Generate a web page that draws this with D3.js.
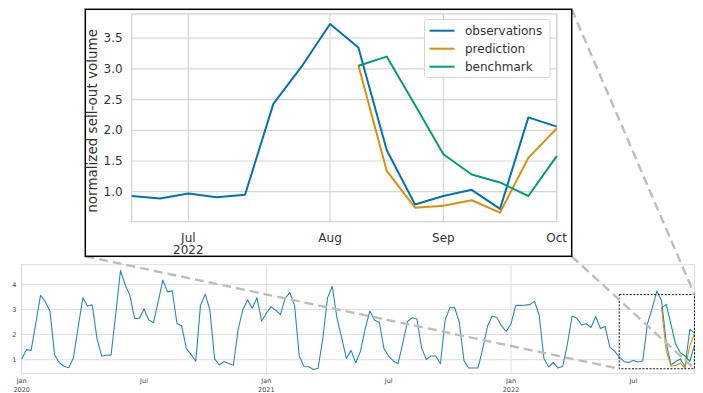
<!DOCTYPE html>
<html>
<head>
<meta charset="utf-8">
<script src="https://cdn.jsdelivr.net/npm/d3@7"></script>
<style>
  html, body { margin: 0; padding: 0; background: #fff; }
  svg { display: block; font-family: "DejaVu Sans", sans-serif; }
</style>
</head>
<body>
<svg id="chart" width="703" height="393"></svg>
<script>
// ---------------- DATA ----------------
const firstWeek = "2019-12-30";   // weekly periods (Monday starts)
const observations = [
  1.03, 1.40, 1.37, 2.45, 3.56, 3.32, 2.94, 1.19, 0.88, 0.74, 0.68, 1.08, 2.30, 3.46, 3.14, 3.18,
  1.84, 1.14, 1.19, 1.18, 2.85, 4.55, 3.98, 3.55, 2.64, 2.64, 3.02, 2.58, 2.47, 3.30, 4.17, 3.70,
  3.74, 2.44, 2.35, 1.45, 1.20, 0.94, 3.16, 3.61, 2.98, 1.03, 0.79, 0.93, 0.85, 0.78, 2.20, 2.98,
  3.38, 3.05, 3.47, 2.53, 2.85, 3.10, 2.97, 2.79, 3.45, 3.67, 3.15, 1.14, 0.73, 0.72, 0.61, 0.66,
  1.85, 3.46, 3.92, 2.67, 1.88, 1.05, 1.37, 0.88, 1.33, 2.23, 2.94, 2.57, 2.49, 1.44, 1.14, 0.95,
  0.84, 1.67, 2.52, 2.67, 2.62, 1.46, 1.01, 1.15, 1.15, 0.84, 2.58, 3.07, 3.08, 2.50, 0.97, 0.67,
  0.67, 0.67, 1.45, 2.33, 2.74, 2.68, 2.34, 2.13, 2.43, 3.16, 3.16, 3.17, 3.19, 3.33, 2.76, 1.05,
  0.71, 0.89, 0.67, 0.74, 1.64, 2.74, 2.65, 2.38, 2.43, 2.28, 2.72, 2.24, 2.32, 1.50, 1.34, 1.11,
  0.93, 0.89, 0.97, 0.91, 0.95, 2.43, 3.04, 3.73, 3.35, 1.68, 0.79, 0.93, 1.03, 0.72, 2.21, 2.06
];
const forecastStart = "2022-08-08";
const prediction = [3.06, 1.34, 0.74, 0.77, 0.86, 0.66, 1.55, 2.03];
const benchmark  = [3.05, 3.20, 2.41, 1.61, 1.28, 1.15, 0.93, 1.58];

const insetStart = "2022-06-13";
const zoomBoxStart = "2022-06-06";
const zoomBoxLow = 0.64, zoomBoxHigh = 3.59;

const seriesNames = ["observations", "prediction", "benchmark"];
const seriesColors = ["#0173b2", "#de8f05", "#029e73"];

const mainTickMonths = ["2020-01-01", "2020-07-01", "2021-01-01", "2021-07-01", "2022-01-01", "2022-07-01"];
const mainTickLabels = [["Jan", "2020"], ["Jul"], ["Jan", "2021"], ["Jul"], ["Jan", "2022"], ["Jul"]];
const mainYTicks = [1, 2, 3, 4];

const insetTickMonths = ["2022-07-01", "2022-08-01", "2022-09-01", "2022-10-01"];
const insetTickLabels = [["Jul", "2022"], ["Aug"], ["Sep"], ["Oct"]];
const insetYTicks = [1.0, 1.5, 2.0, 2.5, 3.0, 3.5];
const yLabel = "normalized sell-out volume";

// ---------------- HELPERS ----------------
const parse = d3.utcParse("%Y-%m-%d");
const week0 = parse(firstWeek);
const obsData = observations.map((v, i) => ({ date: d3.utcWeek.offset(week0, i), v }));
const fc0 = parse(forecastStart);
const predData = prediction.map((v, i) => ({ date: d3.utcWeek.offset(fc0, i), v }));
const benchData = benchmark.map((v, i) => ({ date: d3.utcWeek.offset(fc0, i), v }));
const weekOf = s => d3.utcMonday.floor(parse(s));   // period containing the month start
const lastWeek = obsData[obsData.length - 1].date;

const svg = d3.select("#chart");

// ---------------- MAIN (bottom) CHART ----------------
const M = { left: 21.7, right: 694.5, top: 264.7, bottom: 373.7 };
const x = d3.scaleUtc().domain([week0, lastWeek]).range([M.left, M.right]);
const y = d3.scaleLinear().domain([0.443, 4.78]).range([M.bottom, M.top]);

const gMain = svg.append("g");
gMain.append("rect").attr("x", M.left).attr("y", M.top)
  .attr("width", M.right - M.left).attr("height", M.bottom - M.top).attr("fill", "#fff");

// horizontal grid
gMain.append("g").selectAll("line").data(mainYTicks).join("line")
  .attr("x1", M.left).attr("x2", M.right)
  .attr("y1", d => y(d)).attr("y2", d => y(d))
  .attr("stroke", "#dedede").attr("stroke-width", 1);
// vertical grid at major (year) ticks
const mainTicks = mainTickMonths.map((m, i) => ({ date: weekOf(m), label: mainTickLabels[i] }));
gMain.append("g").selectAll("line").data(mainTicks.filter(t => t.label.length > 1)).join("line")
  .attr("x1", d => x(d.date)).attr("x2", d => x(d.date))
  .attr("y1", M.top).attr("y2", M.bottom)
  .attr("stroke", "#dedede").attr("stroke-width", 1);
// frame
gMain.append("rect").attr("x", M.left).attr("y", M.top)
  .attr("width", M.right - M.left).attr("height", M.bottom - M.top)
  .attr("fill", "none").attr("stroke", "#dcdcdc").attr("stroke-width", 1);

// y tick labels
gMain.append("g").selectAll("text").data(mainYTicks).join("text")
  .attr("x", 16.5).attr("y", d => y(d)).attr("dy", "0.35em")
  .attr("text-anchor", "end").attr("font-size", 6.5).attr("fill", "#444")
  .text(d => d3.format("d")(d));
// x tick labels
const xt = gMain.append("g").selectAll("text").data(mainTicks).join("text")
  .attr("x", d => x(d.date)).attr("y", 383)
  .attr("text-anchor", "middle").attr("font-size", 6.5).attr("fill", "#444");
xt.selectAll("tspan").data(d => d.label.map(l => ({ l, x: x(d.date) }))).join("tspan")
  .attr("x", d => d.x).attr("dy", (d, i) => i === 0 ? 0 : 8.5).text(d => d.l);

const lineMain = d3.line().x(d => x(d.date)).y(d => y(d.v));
gMain.append("path").datum(obsData).attr("d", lineMain)
  .attr("fill", "none").attr("stroke", seriesColors[0]).attr("stroke-width", 1.1)
  .attr("stroke-opacity", 0.85).attr("stroke-linejoin", "round");
gMain.append("path").datum(predData).attr("d", lineMain)
  .attr("fill", "none").attr("stroke", seriesColors[1]).attr("stroke-width", 1.1);
gMain.append("path").datum(benchData).attr("d", lineMain)
  .attr("fill", "none").attr("stroke", seriesColors[2]).attr("stroke-width", 1.1);

// zoom box
const zb = { x0: x(parse(zoomBoxStart)), x1: x(lastWeek), y0: y(zoomBoxHigh), y1: y(zoomBoxLow) };
gMain.append("rect").attr("x", zb.x0).attr("y", zb.y0)
  .attr("width", zb.x1 - zb.x0).attr("height", zb.y1 - zb.y0)
  .attr("fill", "none").attr("stroke", "#111").attr("stroke-width", 1).attr("stroke-dasharray", "2,1.5");

// ---------------- INSET ----------------
const B = { left: 85.3, right: 571.7, top: 9.3, bottom: 256.3 };   // inset figure box
const I = { left: 131.7, right: 556.7, top: 14, bottom: 221.7 };   // inset plot area

// connectors
const connectors = [
  [[B.left, B.bottom], [zb.x0, zb.y1]],
  [[B.right, B.bottom], [zb.x1, zb.y1]],
  [[B.right, B.top], [zb.x1, zb.y0]]
];
svg.append("g").selectAll("line").data(connectors).join("line")
  .attr("x1", d => d[0][0]).attr("y1", d => d[0][1])
  .attr("x2", d => d[1][0]).attr("y2", d => d[1][1])
  .attr("stroke", "#bdbdbd").attr("stroke-width", 2.4).attr("stroke-dasharray", "9,5");

const gIn = svg.append("g");
gIn.append("rect").attr("x", B.left).attr("y", B.top)
  .attr("width", B.right - B.left).attr("height", B.bottom - B.top)
  .attr("fill", "#fff").attr("stroke", "#000").attr("stroke-width", 1.5);

const xi = d3.scaleUtc().domain([parse(insetStart), lastWeek]).range([I.left, I.right]);
const yi = d3.scaleLinear().domain([0.511, 3.894]).range([I.bottom, I.top]);

const insetTicks = insetTickMonths.map((m, i) => ({ date: weekOf(m), label: insetTickLabels[i] }));
gIn.append("g").selectAll("line").data(insetYTicks).join("line")
  .attr("x1", I.left).attr("x2", I.right).attr("y1", d => yi(d)).attr("y2", d => yi(d))
  .attr("stroke", "#d6d6d6").attr("stroke-width", 1.2);
gIn.append("g").selectAll("line").data(insetTicks).join("line")
  .attr("x1", d => xi(d.date)).attr("x2", d => xi(d.date)).attr("y1", I.top).attr("y2", I.bottom)
  .attr("stroke", "#d6d6d6").attr("stroke-width", 1.2);
gIn.append("rect").attr("x", I.left).attr("y", I.top)
  .attr("width", I.right - I.left).attr("height", I.bottom - I.top)
  .attr("fill", "none").attr("stroke", "#d0d0d0").attr("stroke-width", 1.2);

gIn.append("g").selectAll("text").data(insetYTicks).join("text")
  .attr("x", I.left - 9).attr("y", d => yi(d)).attr("dy", "0.35em")
  .attr("text-anchor", "end").attr("font-size", 12).attr("fill", "#333")
  .text(d => d3.format(".1f")(d));
const ixt = gIn.append("g").selectAll("text").data(insetTicks).join("text")
  .attr("y", 241.5).attr("text-anchor", "middle").attr("font-size", 12).attr("fill", "#333");
ixt.selectAll("tspan").data(d => d.label.map(l => ({ l, x: xi(d.date) }))).join("tspan")
  .attr("x", d => d.x).attr("dy", (d, i) => i === 0 ? 0 : 12.8).text(d => d.l);

gIn.append("text")
  .attr("transform", `translate(96.5,${(I.top + I.bottom) / 2 + 3}) rotate(-90)`)
  .attr("text-anchor", "middle").attr("font-size", 13.5).attr("fill", "#333")
  .text(yLabel);

const lineIn = d3.line().x(d => xi(d.date)).y(d => yi(d.v));
const insetObs = obsData.filter(d => d.date >= parse(insetStart));
[insetObs, predData, benchData].forEach((data, k) => {
  gIn.append("path").datum(data).attr("d", lineIn)
    .attr("fill", "none").attr("stroke", seriesColors[k]).attr("stroke-width", 2)
    .attr("stroke-linejoin", "round");
});

// legend
const L = { x: 424.5, y: 19.5, w: 125.5, h: 58 };
const gL = gIn.append("g");
gL.append("rect").attr("x", L.x).attr("y", L.y).attr("width", L.w).attr("height", L.h)
  .attr("rx", 3).attr("fill", "#fff").attr("fill-opacity", 0.85)
  .attr("stroke", "#d6d6d6").attr("stroke-width", 1);
seriesNames.forEach((name, k) => {
  const cy = 30.7 + k * 18;
  gL.append("line").attr("x1", L.x + 5).attr("x2", L.x + 30).attr("y1", cy).attr("y2", cy)
    .attr("stroke", seriesColors[k]).attr("stroke-width", 2);
  gL.append("text").attr("x", L.x + 40.5).attr("y", cy).attr("dy", "0.35em")
    .attr("font-size", 12).attr("fill", "#333").text(name);
});
</script>
</body>
</html>
